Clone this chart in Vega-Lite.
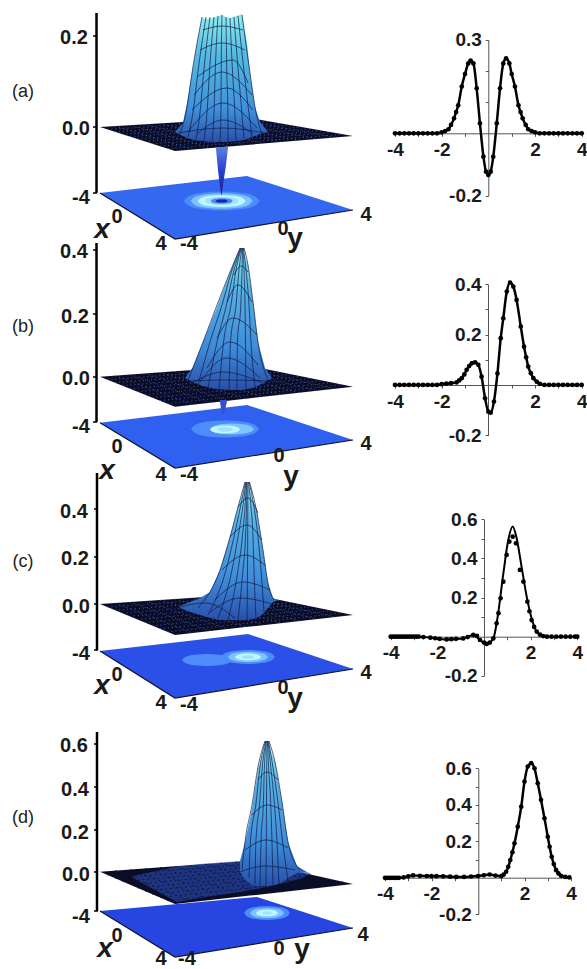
{"$schema":"https://vega.github.io/schema/vega-lite/v6.json","padding":0,"spacing":0,"columns":2,"bounds":"flush","background":"white","config":{"view":{"stroke":null},"font":"Liberation Sans","axis":{"grid":false,"title":null,"domainColor":"#555","tickColor":"#555","tickSize":3,"labelPadding":4,"labelFlush":false,"labelFont":"Liberation Sans","labelFontSize":19,"labelFontWeight":"bold","labelColor":"#1a1a1a"}},
"concat":[
{"width":350,"height":242,"encoding":{"x":{"field":"u","type":"quantitative","scale":{"domain":[0,350]},"axis":null},"y":{"field":"v","type":"quantitative","scale":{"domain":[242,0]},"axis":null}},"layer":[
{"data":{"values":[{"u":100,"v":193,"v2":193},{"u":175,"v":184.3,"v2":239},{"u":247,"v":176,"v2":227.3},{"u":353,"v":210,"v2":210}]},"mark":{"type":"area","color":"#3468f0"},"encoding":{"y2":{"field":"v2"}}},
{"data":{"values":[{"level":1,"u":183.7,"v":201,"v2":201},{"level":1,"u":188.6,"v":196.2,"v2":205.8},{"level":1,"u":202.7,"v":192.7,"v2":209.3},{"level":1,"u":221.7,"v":191.5,"v2":210.5},{"level":1,"u":240.7,"v":192.7,"v2":209.3},{"level":1,"u":254.8,"v":196.2,"v2":205.8},{"level":1,"u":259.7,"v":201,"v2":201},{"level":2,"u":190.7,"v":201,"v2":201},{"level":2,"u":194.7,"v":197.1,"v2":204.9},{"level":2,"u":206.2,"v":194.2,"v2":207.8},{"level":2,"u":221.7,"v":193.2,"v2":208.8},{"level":2,"u":237.2,"v":194.2,"v2":207.8},{"level":2,"u":248.7,"v":197.1,"v2":204.9},{"level":2,"u":252.7,"v":201,"v2":201},{"level":3,"u":197.7,"v":201,"v2":201},{"level":3,"u":200.8,"v":198,"v2":204},{"level":3,"u":209.7,"v":195.8,"v2":206.2},{"level":3,"u":221.7,"v":195,"v2":207},{"level":3,"u":233.7,"v":195.8,"v2":206.2},{"level":3,"u":242.6,"v":198,"v2":204},{"level":3,"u":245.7,"v":201,"v2":201},{"level":4,"u":204.7,"v":201,"v2":201},{"level":4,"u":206.9,"v":198.9,"v2":203.1},{"level":4,"u":213.2,"v":197.3,"v2":204.7},{"level":4,"u":221.7,"v":196.7,"v2":205.3},{"level":4,"u":230.2,"v":197.3,"v2":204.7},{"level":4,"u":236.5,"v":198.9,"v2":203.1},{"level":4,"u":238.7,"v":201,"v2":201},{"level":5,"u":210.7,"v":201,"v2":201},{"level":5,"u":212.1,"v":199.6,"v2":202.4},{"level":5,"u":216.2,"v":198.6,"v2":203.4},{"level":5,"u":221.7,"v":198.2,"v2":203.8},{"level":5,"u":227.2,"v":198.6,"v2":203.4},{"level":5,"u":231.3,"v":199.6,"v2":202.4},{"level":5,"u":232.7,"v":201,"v2":201},{"level":6,"u":215.7,"v":201,"v2":201},{"level":6,"u":216.5,"v":200.2,"v2":201.8},{"level":6,"u":218.7,"v":199.6,"v2":202.4},{"level":6,"u":221.7,"v":199.4,"v2":202.6},{"level":6,"u":224.7,"v":199.6,"v2":202.4},{"level":6,"u":226.9,"v":200.2,"v2":201.8},{"level":6,"u":227.7,"v":201,"v2":201}]},"mark":{"type":"area","interpolate":"monotone"},"encoding":{"y2":{"field":"v2"},"color":{"field":"level","type":"ordinal","legend":null,"scale":{"domain":[1,2,3,4,5,6],"range":["#4d8dfa","#7fc4ff","#c0f6ff","#9fe4ff","#4f86ee","#1a22b0"]}}}},
{"data":{"values":[{"u":100,"v":193},{"u":175,"v":239},{"u":353,"v":210}]},"mark":{"type":"line","color":"#10142a","strokeWidth":1.2},"encoding":{}},
{"data":{"values":[{"u":100,"v":127,"v2":127},{"u":175,"v":122.5,"v2":151},{"u":250,"v":118,"v2":144.7},{"u":353,"v":136,"v2":136}]},"mark":{"type":"area","color":"#0b0d26"},"encoding":{"y2":{"field":"v2"}}},
{"data":{"values":[{"u":107.5,"v":129.4,"u2":260.3,"v2":119.8},{"u":115,"v":131.8,"u2":270.6,"v2":121.6},{"u":122.5,"v":134.2,"u2":280.9,"v2":123.4},{"u":130,"v":136.6,"u2":291.2,"v2":125.2},{"u":137.5,"v":139,"u2":301.5,"v2":127},{"u":145,"v":141.4,"u2":311.8,"v2":128.8},{"u":152.5,"v":143.8,"u2":322.1,"v2":130.6},{"u":160,"v":146.2,"u2":332.4,"v2":132.4},{"u":167.5,"v":148.6,"u2":342.7,"v2":134.2},{"u":115,"v":126.1,"u2":192.8,"v2":149.5},{"u":130,"v":125.2,"u2":210.6,"v2":148},{"u":145,"v":124.3,"u2":228.4,"v2":146.5},{"u":160,"v":123.4,"u2":246.2,"v2":145},{"u":175,"v":122.5,"u2":264,"v2":143.5},{"u":190,"v":121.6,"u2":281.8,"v2":142},{"u":205,"v":120.7,"u2":299.6,"v2":140.5},{"u":220,"v":119.8,"u2":317.4,"v2":139},{"u":235,"v":118.9,"u2":335.2,"v2":137.5}]},"mark":{"type":"rule","color":"#4a70d8","strokeWidth":0.8,"strokeDash":[1,3]},"encoding":{"x2":{"field":"u2"},"y2":{"field":"v2"}}},
{"data":{"values":[{"u":216,"v":147,"v2":149},{"u":218,"v":147,"v2":170},{"u":220.5,"v":147,"v2":190},{"u":221.5,"v":147,"v2":196},{"u":223,"v":147,"v2":185},{"u":226,"v":147,"v2":165},{"u":228,"v":147,"v2":148}]},"mark":{"type":"area","color":{"x1":0,"y1":0,"x2":0,"y2":1,"gradient":"linear","stops":[{"offset":0,"color":"#5a80e0"},{"offset":0.5,"color":"#2a3cd0"},{"offset":1,"color":"#1a1a80"}]}},"encoding":{"y2":{"field":"v2"}}},
{"data":{"values":[{"u":175,"v":132,"v2":132},{"u":183,"v":123,"v2":136},{"u":187,"v":103,"v2":138},{"u":192,"v":73,"v2":139.5},{"u":197,"v":43,"v2":140.5},{"u":202,"v":18,"v2":141},{"u":207,"v":19,"v2":141.5},{"u":213,"v":18,"v2":142},{"u":218,"v":16,"v2":142},{"u":222,"v":15,"v2":142},{"u":226,"v":17,"v2":142},{"u":230,"v":18,"v2":141.5},{"u":236,"v":16,"v2":141},{"u":242,"v":14,"v2":140.5},{"u":247,"v":43,"v2":139},{"u":250,"v":73,"v2":138},{"u":255,"v":107,"v2":136},{"u":260,"v":122,"v2":134},{"u":268,"v":132,"v2":132}]},"mark":{"type":"area","color":{"x1":0,"y1":0,"x2":0,"y2":1,"gradient":"linear","stops":[{"offset":0,"color":"#8ff0ee"},{"offset":0.3,"color":"#58bce0"},{"offset":0.75,"color":"#3f8fd8"},{"offset":1,"color":"#2850a8"}]}},"encoding":{"y2":{"field":"v2"}}},
{"data":{"values":[{"g":"m0","u":180,"v":134},{"g":"m0","u":187,"v":107},{"g":"m0","u":192,"v":73},{"g":"m0","u":202,"v":17},{"g":"m1","u":188,"v":137},{"g":"m1","u":193.8,"v":107},{"g":"m1","u":197.8,"v":73},{"g":"m1","u":206,"v":17},{"g":"m2","u":196,"v":139.5},{"g":"m2","u":200.6,"v":107},{"g":"m2","u":203.6,"v":73},{"g":"m2","u":210,"v":17},{"g":"m3","u":204,"v":141},{"g":"m3","u":207.4,"v":107},{"g":"m3","u":209.4,"v":73},{"g":"m3","u":214,"v":17},{"g":"m4","u":212,"v":141.5},{"g":"m4","u":214.2,"v":107},{"g":"m4","u":215.2,"v":73},{"g":"m4","u":218,"v":16},{"g":"m5","u":220,"v":142},{"g":"m5","u":221,"v":107},{"g":"m5","u":221.2,"v":73},{"g":"m5","u":222,"v":15},{"g":"m6","u":228,"v":141.5},{"g":"m6","u":227.8,"v":107},{"g":"m6","u":226.8,"v":73},{"g":"m6","u":226,"v":17},{"g":"m7","u":236,"v":141},{"g":"m7","u":234.6,"v":107},{"g":"m7","u":232.6,"v":73},{"g":"m7","u":230,"v":18},{"g":"m8","u":244,"v":139.5},{"g":"m8","u":241.4,"v":107},{"g":"m8","u":238.4,"v":73},{"g":"m8","u":234,"v":17},{"g":"m9","u":252,"v":137},{"g":"m9","u":248.2,"v":107},{"g":"m9","u":244.2,"v":73},{"g":"m9","u":238,"v":16},{"g":"m10","u":262,"v":134},{"g":"m10","u":255,"v":107},{"g":"m10","u":250,"v":73},{"g":"m10","u":242,"v":15},{"g":"a0","u":178,"v":133},{"g":"a0","u":223,"v":128},{"g":"a0","u":265,"v":133},{"g":"a1","u":197,"v":134},{"g":"a1","u":223,"v":120},{"g":"a1","u":253,"v":134},{"g":"a2","u":188,"v":132},{"g":"a2","u":223,"v":103},{"g":"a2","u":257,"v":128},{"g":"a3","u":192,"v":110},{"g":"a3","u":227,"v":88},{"g":"a3","u":253,"v":110},{"g":"a4","u":197,"v":77},{"g":"a4","u":233,"v":60},{"g":"a4","u":248,"v":83},{"g":"a5","u":200,"v":50},{"g":"a5","u":222,"v":43},{"g":"a5","u":245,"v":50},{"g":"a6","u":203,"v":30},{"g":"a6","u":222,"v":26},{"g":"a6","u":243,"v":30},{"g":"a7","u":194,"v":95},{"g":"a7","u":222,"v":72},{"g":"a7","u":252,"v":95}]},"mark":{"type":"line","color":"#0c1a4a","strokeWidth":0.7,"interpolate":"monotone"},"encoding":{"detail":{"field":"g"}}},
{"data":{"values":[{"u":96.5,"v":13,"v2":193}]},"mark":{"type":"rule","color":"#000","strokeWidth":2.5},"encoding":{"y2":{"field":"v2"}}},
{"data":{"values":[{"u":93,"u2":97,"v":36},{"u":93,"u2":97,"v":127},{"u":93,"u2":97,"v":193}]},"mark":{"type":"rule","color":"#000","strokeWidth":1.5},"encoding":{"x2":{"field":"u2"}}},
{"data":{"values":[{"u":74,"v":38,"t":"0.2"},{"u":76,"v":129,"t":"0.0"},{"u":81,"v":198,"t":"-4"},{"u":117,"v":217,"t":"0"},{"u":161,"v":244,"t":"4"},{"u":189,"v":244,"t":"-4"},{"u":283,"v":229,"t":"0"},{"u":366,"v":215,"t":"4"}]},"mark":{"type":"text","fontSize":20,"fontWeight":"bold","color":"#1a1a1a","align":"center","baseline":"middle"},"encoding":{"text":{"field":"t"}}},
{"data":{"values":[{"u":102,"v":230,"t":"x"}]},"mark":{"type":"text","fontSize":28,"fontWeight":"bold","fontStyle":"italic","color":"#1a1a1a","align":"center","baseline":"middle"},"encoding":{"text":{"field":"t"}}},
{"data":{"values":[{"u":295,"v":239,"t":"y"}]},"mark":{"type":"text","fontSize":28,"fontWeight":"bold","color":"#1a1a1a","align":"center","baseline":"middle"},"encoding":{"text":{"field":"t"}}},
{"data":{"values":[{"u":23,"v":92,"t":"(a)"}]},"mark":{"type":"text","fontSize":18,"color":"#222","align":"center","baseline":"middle"},"encoding":{"text":{"field":"t"}}}
]},
{"width":237,"height":242,"data":{"values":[{"x":-4,"y":0},{"x":-3.8,"y":0},{"x":-3.6,"y":0},{"x":-3.4,"y":0},{"x":-3.2,"y":0},{"x":-3,"y":0},{"x":-2.8,"y":0},{"x":-2.6,"y":0},{"x":-2.4,"y":0},{"x":-2.2,"y":0},{"x":-2,"y":0.003},{"x":-1.85,"y":0.007},{"x":-1.71,"y":0.013},{"x":-1.6,"y":0.027},{"x":-1.47,"y":0.048},{"x":-1.38,"y":0.068},{"x":-1.29,"y":0.09},{"x":-1.14,"y":0.15},{"x":-1,"y":0.19},{"x":-0.86,"y":0.224},{"x":-0.76,"y":0.233},{"x":-0.64,"y":0.224},{"x":-0.5,"y":0.144},{"x":-0.36,"y":0.032},{"x":-0.21,"y":-0.075},{"x":-0.1,"y":-0.123},{"x":0,"y":-0.134},{"x":0.1,"y":-0.123},{"x":0.21,"y":-0.075},{"x":0.36,"y":0.032},{"x":0.5,"y":0.144},{"x":0.64,"y":0.224},{"x":0.76,"y":0.24},{"x":0.9,"y":0.224},{"x":1,"y":0.19},{"x":1.14,"y":0.15},{"x":1.29,"y":0.09},{"x":1.38,"y":0.068},{"x":1.47,"y":0.048},{"x":1.6,"y":0.027},{"x":1.71,"y":0.013},{"x":1.85,"y":0.007},{"x":2,"y":0.003},{"x":2.2,"y":0},{"x":2.4,"y":0},{"x":2.6,"y":0},{"x":2.8,"y":0},{"x":3,"y":0},{"x":3.2,"y":0},{"x":3.4,"y":0},{"x":3.6,"y":0},{"x":3.8,"y":0},{"x":4,"y":0}]},
"encoding":{"x":{"field":"x","type":"quantitative","scale":{"domain":[-4,4],"range":[45,231.7]},"axis":{"offset":-108.7,"values":[-4,-3,-2,-1,1,2,3,4],"labelExpr":"datum.value%2==0?(datum.value<0?'-'+(-datum.value):''+datum.value):''"}},"y":{"field":"y","type":"quantitative","scale":{"domain":[-0.2,0.3],"range":[195.7,39.7]},"axis":{"offset":-138.3,"values":[0.3,0.2,0.1,-0.2],"labelExpr":"datum.value==0.3?'0.3':(datum.value==-0.2?'-0.2':'')"}}},
"layer":[{"mark":{"type":"line","color":"#000","strokeWidth":2.5,"interpolate":"monotone"}},{"mark":{"type":"point","filled":true,"color":"#000","opacity":1,"size":22}}]},

{"width":350,"height":242,"encoding":{"x":{"field":"u","type":"quantitative","scale":{"domain":[0,350]},"axis":null},"y":{"field":"v","type":"quantitative","scale":{"domain":[484,242]},"axis":null}},"layer":[
{"data":{"values":[{"u":100,"v":422.7,"v2":422.7},{"u":175,"v":413.7,"v2":468},{"u":247,"v":405,"v2":456.7},{"u":353,"v":440,"v2":440}]},"mark":{"type":"area","color":"#2f60f0"},"encoding":{"y2":{"field":"v2"}}},
{"data":{"values":[{"level":1,"u":191,"v":429,"v2":429},{"level":1,"u":195.4,"v":424.8,"v2":433.2},{"level":1,"u":208,"v":421.6,"v2":436.4},{"level":1,"u":225,"v":420.5,"v2":437.5},{"level":1,"u":242,"v":421.6,"v2":436.4},{"level":1,"u":254.6,"v":424.8,"v2":433.2},{"level":1,"u":259,"v":429,"v2":429},{"level":2,"u":210,"v":429,"v2":429},{"level":2,"u":212.9,"v":426.2,"v2":431.8},{"level":2,"u":221,"v":424.2,"v2":433.8},{"level":2,"u":232,"v":423.5,"v2":434.5},{"level":2,"u":243,"v":424.2,"v2":433.8},{"level":2,"u":251.1,"v":426.2,"v2":431.8},{"level":2,"u":254,"v":429,"v2":429},{"level":3,"u":210,"v":429.5,"v2":429.5},{"level":3,"u":212,"v":427.5,"v2":431.5},{"level":3,"u":217.5,"v":426,"v2":433},{"level":3,"u":225,"v":425.5,"v2":433.5},{"level":3,"u":232.5,"v":426,"v2":433},{"level":3,"u":238,"v":427.5,"v2":431.5},{"level":3,"u":240,"v":429.5,"v2":429.5},{"level":4,"u":217,"v":429.5,"v2":429.5},{"level":4,"u":218,"v":428.4,"v2":430.6},{"level":4,"u":221,"v":427.6,"v2":431.4},{"level":4,"u":225,"v":427.3,"v2":431.7},{"level":4,"u":229,"v":427.6,"v2":431.4},{"level":4,"u":232,"v":428.4,"v2":430.6},{"level":4,"u":233,"v":429.5,"v2":429.5}]},"mark":{"type":"area","interpolate":"monotone"},"encoding":{"y2":{"field":"v2"},"color":{"field":"level","type":"ordinal","legend":null,"scale":{"domain":[1,2,3,4],"range":["#4a8af8","#88d0ff","#3e78ec","#1a28c0"]}}}},
{"data":{"values":[{"u":100,"v":422.7},{"u":175,"v":468},{"u":353,"v":440}]},"mark":{"type":"line","color":"#10142a","strokeWidth":1.2},"encoding":{}},
{"data":{"values":[{"u":100,"v":376.7,"v2":376.7},{"u":175,"v":371.3,"v2":406.7},{"u":250,"v":366,"v2":398.3},{"u":353,"v":386.7,"v2":386.7}]},"mark":{"type":"area","color":"#0b0d26"},"encoding":{"y2":{"field":"v2"}}},
{"data":{"values":[{"u":107.5,"v":379.7,"u2":260.3,"v2":368.1},{"u":115,"v":382.7,"u2":270.6,"v2":370.1},{"u":122.5,"v":385.7,"u2":280.9,"v2":372.2},{"u":130,"v":388.7,"u2":291.2,"v2":374.3},{"u":137.5,"v":391.7,"u2":301.5,"v2":376.4},{"u":145,"v":394.7,"u2":311.8,"v2":378.4},{"u":152.5,"v":397.7,"u2":322.1,"v2":380.5},{"u":160,"v":400.7,"u2":332.4,"v2":382.6},{"u":167.5,"v":403.7,"u2":342.7,"v2":384.6},{"u":115,"v":375.6,"u2":192.8,"v2":404.7},{"u":130,"v":374.6,"u2":210.6,"v2":402.7},{"u":145,"v":373.5,"u2":228.4,"v2":400.7},{"u":160,"v":372.4,"u2":246.2,"v2":398.7},{"u":175,"v":371.4,"u2":264,"v2":396.7},{"u":190,"v":370.3,"u2":281.8,"v2":394.7},{"u":205,"v":369.2,"u2":299.6,"v2":392.7},{"u":220,"v":368.1,"u2":317.4,"v2":390.7},{"u":235,"v":367.1,"u2":335.2,"v2":388.7}]},"mark":{"type":"rule","color":"#4a70d8","strokeWidth":0.8,"strokeDash":[1,3]},"encoding":{"x2":{"field":"u2"},"y2":{"field":"v2"}}},
{"data":{"values":[{"u":220,"v":400,"v2":402},{"u":221.5,"v":400,"v2":412},{"u":223,"v":400,"v2":415},{"u":225,"v":400,"v2":411},{"u":227,"v":400,"v2":401}]},"mark":{"type":"area","color":"#3a50c8"},"encoding":{"y2":{"field":"v2"}}},
{"data":{"values":[{"u":185,"v":378,"v2":378},{"u":193,"v":367,"v2":382},{"u":203,"v":342,"v2":386},{"u":216.7,"v":308,"v2":389},{"u":230,"v":272,"v2":390},{"u":241.7,"v":247,"v2":390},{"u":248,"v":265,"v2":389},{"u":253,"v":302,"v2":388},{"u":258,"v":342,"v2":386},{"u":265,"v":368,"v2":382},{"u":272,"v":378,"v2":378}]},"mark":{"type":"area","color":{"x1":0,"y1":0,"x2":0,"y2":1,"gradient":"linear","stops":[{"offset":0,"color":"#8ff0ee"},{"offset":0.3,"color":"#58b0e0"},{"offset":0.7,"color":"#3f8cd8"},{"offset":1,"color":"#2850a8"}]}},"encoding":{"y2":{"field":"v2"}}},
{"data":{"values":[{"g":"m0","u":188,"v":380},{"g":"m0","u":203,"v":342},{"g":"m0","u":217,"v":305},{"g":"m0","u":230,"v":272},{"g":"m0","u":240,"v":248},{"g":"m1","u":198,"v":385},{"g":"m1","u":210,"v":342},{"g":"m1","u":222,"v":305},{"g":"m1","u":232,"v":270},{"g":"m1","u":240.5,"v":248},{"g":"m2","u":208,"v":388},{"g":"m2","u":217,"v":342},{"g":"m2","u":226.5,"v":305},{"g":"m2","u":234,"v":270},{"g":"m2","u":241,"v":248},{"g":"m3","u":219,"v":390},{"g":"m3","u":223.6,"v":342},{"g":"m3","u":231,"v":305},{"g":"m3","u":236,"v":270},{"g":"m3","u":241.5,"v":248},{"g":"m4","u":229,"v":390},{"g":"m4","u":230.5,"v":342},{"g":"m4","u":236,"v":305},{"g":"m4","u":239,"v":270},{"g":"m4","u":242,"v":248},{"g":"m5","u":237,"v":390},{"g":"m5","u":237.4,"v":342},{"g":"m5","u":240.8,"v":305},{"g":"m5","u":242,"v":270},{"g":"m5","u":242.5,"v":248},{"g":"m6","u":246,"v":389},{"g":"m6","u":245.5,"v":342},{"g":"m6","u":245,"v":305},{"g":"m6","u":244,"v":270},{"g":"m6","u":243,"v":248},{"g":"m7","u":255,"v":387},{"g":"m7","u":251,"v":342},{"g":"m7","u":249,"v":305},{"g":"m7","u":246,"v":270},{"g":"m7","u":243.5,"v":248},{"g":"m8","u":268,"v":380},{"g":"m8","u":258,"v":342},{"g":"m8","u":253,"v":302},{"g":"m8","u":248,"v":265},{"g":"m8","u":244,"v":248},{"g":"a0","u":186,"v":381},{"g":"a0","u":225,"v":380},{"g":"a0","u":270,"v":381},{"g":"a1","u":192,"v":383},{"g":"a1","u":223,"v":372},{"g":"a1","u":263,"v":383},{"g":"a2","u":200,"v":382},{"g":"a2","u":227,"v":358},{"g":"a2","u":260,"v":378},{"g":"a3","u":207,"v":368},{"g":"a3","u":230,"v":342},{"g":"a3","u":258,"v":365},{"g":"a4","u":217,"v":338},{"g":"a4","u":233,"v":318},{"g":"a4","u":257,"v":335},{"g":"a5","u":227,"v":302},{"g":"a5","u":238,"v":285},{"g":"a5","u":252,"v":302},{"g":"a6","u":234,"v":275},{"g":"a6","u":241,"v":266},{"g":"a6","u":248,"v":272}]},"mark":{"type":"line","color":"#0c1a4a","strokeWidth":0.7,"interpolate":"monotone"},"encoding":{"detail":{"field":"g"}}},
{"data":{"values":[{"u":96.5,"v":243,"v2":422}]},"mark":{"type":"rule","color":"#000","strokeWidth":2.5},"encoding":{"y2":{"field":"v2"}}},
{"data":{"values":[{"u":93,"u2":97,"v":250},{"u":93,"u2":97,"v":314},{"u":93,"u2":97,"v":377},{"u":93,"u2":97,"v":422}]},"mark":{"type":"rule","color":"#000","strokeWidth":1.5},"encoding":{"x2":{"field":"u2"}}},
{"data":{"values":[{"u":74,"v":252,"t":"0.4"},{"u":75,"v":317,"t":"0.2"},{"u":76,"v":379,"t":"0.0"},{"u":81,"v":427,"t":"-4"},{"u":117,"v":447,"t":"0"},{"u":161,"v":475,"t":"4"},{"u":189,"v":475,"t":"-4"},{"u":279,"v":456,"t":"0"},{"u":366,"v":444,"t":"4"}]},"mark":{"type":"text","fontSize":20,"fontWeight":"bold","color":"#1a1a1a","align":"center","baseline":"middle"},"encoding":{"text":{"field":"t"}}},
{"data":{"values":[{"u":107,"v":471,"t":"x"}]},"mark":{"type":"text","fontSize":28,"fontWeight":"bold","fontStyle":"italic","color":"#1a1a1a","align":"center","baseline":"middle"},"encoding":{"text":{"field":"t"}}},
{"data":{"values":[{"u":291,"v":477,"t":"y"}]},"mark":{"type":"text","fontSize":28,"fontWeight":"bold","color":"#1a1a1a","align":"center","baseline":"middle"},"encoding":{"text":{"field":"t"}}},
{"data":{"values":[{"u":23,"v":327,"t":"(b)"}]},"mark":{"type":"text","fontSize":18,"color":"#222","align":"center","baseline":"middle"},"encoding":{"text":{"field":"t"}}}
]},
{"width":237,"height":242,"data":{"values":[{"x":-4,"y":0},{"x":-3.8,"y":0},{"x":-3.6,"y":0},{"x":-3.4,"y":0},{"x":-3.2,"y":0},{"x":-3,"y":0},{"x":-2.8,"y":0},{"x":-2.6,"y":0},{"x":-2.4,"y":0},{"x":-2.2,"y":0},{"x":-2,"y":0.003},{"x":-1.8,"y":0.005},{"x":-1.6,"y":0.007},{"x":-1.36,"y":0.01},{"x":-1.25,"y":0.018},{"x":-1.14,"y":0.027},{"x":-1.03,"y":0.042},{"x":-0.93,"y":0.06},{"x":-0.82,"y":0.075},{"x":-0.71,"y":0.086},{"x":-0.57,"y":0.09},{"x":-0.43,"y":0.08},{"x":-0.29,"y":0.033},{"x":-0.14,"y":-0.053},{"x":0,"y":-0.106},{"x":0.1,"y":-0.11},{"x":0.24,"y":-0.066},{"x":0.39,"y":0.046},{"x":0.53,"y":0.186},{"x":0.64,"y":0.265},{"x":0.79,"y":0.371},{"x":0.93,"y":0.407},{"x":1.07,"y":0.391},{"x":1.21,"y":0.338},{"x":1.39,"y":0.232},{"x":1.53,"y":0.152},{"x":1.62,"y":0.11},{"x":1.71,"y":0.073},{"x":1.82,"y":0.047},{"x":1.93,"y":0.027},{"x":2.07,"y":0.013},{"x":2.21,"y":0.004},{"x":2.4,"y":0},{"x":2.6,"y":0},{"x":2.8,"y":0},{"x":3,"y":0},{"x":3.2,"y":0},{"x":3.4,"y":0},{"x":3.6,"y":0},{"x":3.8,"y":0},{"x":4,"y":0}]},
"encoding":{"x":{"field":"x","type":"quantitative","scale":{"domain":[-4,4],"range":[45,231.7]},"axis":{"offset":-99,"values":[-4,-3,-2,-1,1,2,3,4],"labelExpr":"datum.value%2==0?(datum.value<0?'-'+(-datum.value):''+datum.value):''"}},"y":{"field":"y","type":"quantitative","scale":{"domain":[-0.2,0.4],"range":[193.3,42.3]},"axis":{"offset":-138,"values":[0.4,0.3,0.2,0.1,-0.2],"labelExpr":"datum.value==0.4?'0.4':(datum.value==0.2?'0.2':(datum.value==-0.2?'-0.2':''))"}}},
"layer":[{"mark":{"type":"line","color":"#000","strokeWidth":2.5,"interpolate":"monotone"}},{"mark":{"type":"point","filled":true,"color":"#000","opacity":1,"size":22}}]},

{"width":350,"height":242,"encoding":{"x":{"field":"u","type":"quantitative","scale":{"domain":[0,350]},"axis":null},"y":{"field":"v","type":"quantitative","scale":{"domain":[726,484]},"axis":null}},"layer":[
{"data":{"values":[{"u":100,"v":651,"v2":651},{"u":175,"v":642.4,"v2":698},{"u":248,"v":634,"v2":686.1},{"u":353,"v":669,"v2":669}]},"mark":{"type":"area","color":"#2a50e8"},"encoding":{"y2":{"field":"v2"}}},
{"data":{"values":[{"level":0,"u":182,"v":660,"v2":660},{"level":0,"u":185.3,"v":657,"v2":663},{"level":0,"u":194.5,"v":654.8,"v2":665.2},{"level":0,"u":207,"v":654,"v2":666},{"level":0,"u":219.5,"v":654.8,"v2":665.2},{"level":0,"u":228.8,"v":657,"v2":663},{"level":0,"u":232,"v":660,"v2":660},{"level":1,"u":221,"v":657,"v2":657},{"level":1,"u":224.5,"v":653.5,"v2":660.5},{"level":1,"u":234.5,"v":650.9,"v2":663.1},{"level":1,"u":248,"v":650,"v2":664},{"level":1,"u":261.5,"v":650.9,"v2":663.1},{"level":1,"u":271.5,"v":653.5,"v2":660.5},{"level":1,"u":275,"v":657,"v2":657},{"level":2,"u":228,"v":657,"v2":657},{"level":2,"u":230.6,"v":654.4,"v2":659.6},{"level":2,"u":238,"v":652.5,"v2":661.5},{"level":2,"u":248,"v":651.8,"v2":662.2},{"level":2,"u":258,"v":652.5,"v2":661.5},{"level":2,"u":265.4,"v":654.4,"v2":659.6},{"level":2,"u":268,"v":657,"v2":657},{"level":3,"u":235,"v":657,"v2":657},{"level":3,"u":236.7,"v":655.3,"v2":658.8},{"level":3,"u":241.5,"v":654,"v2":660},{"level":3,"u":248,"v":653.5,"v2":660.5},{"level":3,"u":254.5,"v":654,"v2":660},{"level":3,"u":259.3,"v":655.3,"v2":658.8},{"level":3,"u":261,"v":657,"v2":657},{"level":4,"u":242,"v":657,"v2":657},{"level":4,"u":242.8,"v":656.1,"v2":657.9},{"level":4,"u":245,"v":655.4,"v2":658.6},{"level":4,"u":248,"v":655.2,"v2":658.8},{"level":4,"u":251,"v":655.4,"v2":658.6},{"level":4,"u":253.2,"v":656.1,"v2":657.9},{"level":4,"u":254,"v":657,"v2":657}]},"mark":{"type":"area","interpolate":"monotone"},"encoding":{"y2":{"field":"v2"},"color":{"field":"level","type":"ordinal","legend":null,"scale":{"domain":[0,1,2,3,4],"range":["#2244d8","#3f7ff5","#63aaff","#a0e8ff","#c8ffff"]}}}},
{"data":{"values":[{"u":100,"v":651},{"u":175,"v":698},{"u":353,"v":669}]},"mark":{"type":"line","color":"#10142a","strokeWidth":1.2},"encoding":{}},
{"data":{"values":[{"u":100,"v":604,"v2":604},{"u":175,"v":599,"v2":635},{"u":250,"v":594,"v2":626.6},{"u":353,"v":615,"v2":615}]},"mark":{"type":"area","color":"#0b0d26"},"encoding":{"y2":{"field":"v2"}}},
{"data":{"values":[{"u":107.5,"v":607.1,"u2":260.3,"v2":596.1},{"u":115,"v":610.2,"u2":270.6,"v2":598.2},{"u":122.5,"v":613.3,"u2":280.9,"v2":600.3},{"u":130,"v":616.4,"u2":291.2,"v2":602.4},{"u":137.5,"v":619.5,"u2":301.5,"v2":604.5},{"u":145,"v":622.6,"u2":311.8,"v2":606.6},{"u":152.5,"v":625.7,"u2":322.1,"v2":608.7},{"u":160,"v":628.8,"u2":332.4,"v2":610.8},{"u":167.5,"v":631.9,"u2":342.7,"v2":612.9},{"u":115,"v":603,"u2":192.8,"v2":633},{"u":130,"v":602,"u2":210.6,"v2":631},{"u":145,"v":601,"u2":228.4,"v2":629},{"u":160,"v":600,"u2":246.2,"v2":627},{"u":175,"v":599,"u2":264,"v2":625},{"u":190,"v":598,"u2":281.8,"v2":623},{"u":205,"v":597,"u2":299.6,"v2":621},{"u":220,"v":596,"u2":317.4,"v2":619},{"u":235,"v":595,"u2":335.2,"v2":617}]},"mark":{"type":"rule","color":"#4a70d8","strokeWidth":0.8,"strokeDash":[1,3]},"encoding":{"x2":{"field":"u2"},"y2":{"field":"v2"}}},
{"data":{"values":[{"u":180,"v":606,"v2":608},{"u":190,"v":602,"v2":612},{"u":200,"v":598,"v2":615},{"u":210,"v":592,"v2":618},{"u":220,"v":570,"v2":620},{"u":230,"v":537,"v2":620},{"u":238,"v":507,"v2":620},{"u":247,"v":481,"v2":620},{"u":257,"v":513,"v2":618},{"u":263,"v":550,"v2":614},{"u":268,"v":583,"v2":608},{"u":273,"v":598,"v2":602},{"u":278,"v":600,"v2":600}]},"mark":{"type":"area","color":{"x1":0,"y1":0,"x2":0,"y2":1,"gradient":"linear","stops":[{"offset":0,"color":"#8ff0ee"},{"offset":0.3,"color":"#58b0e0"},{"offset":0.7,"color":"#3f8cd8"},{"offset":1,"color":"#2850a8"}]}},"encoding":{"y2":{"field":"v2"}}},
{"data":{"values":[{"g":"m0","u":198,"v":608},{"g":"m0","u":220,"v":570},{"g":"m0","u":230,"v":537},{"g":"m0","u":238,"v":507},{"g":"m0","u":245,"v":482},{"g":"m1","u":208,"v":615},{"g":"m1","u":226,"v":570},{"g":"m1","u":234,"v":537},{"g":"m1","u":240.4,"v":507},{"g":"m1","u":245.5,"v":482},{"g":"m2","u":218,"v":618},{"g":"m2","u":232,"v":570},{"g":"m2","u":238,"v":537},{"g":"m2","u":242.8,"v":507},{"g":"m2","u":246,"v":482},{"g":"m3","u":228,"v":620},{"g":"m3","u":238,"v":570},{"g":"m3","u":242.4,"v":537},{"g":"m3","u":245,"v":507},{"g":"m3","u":246.5,"v":482},{"g":"m4","u":238,"v":620},{"g":"m4","u":243,"v":570},{"g":"m4","u":245.5,"v":537},{"g":"m4","u":246.5,"v":507},{"g":"m4","u":247,"v":482},{"g":"m5","u":247,"v":620},{"g":"m5","u":247.5,"v":570},{"g":"m5","u":247.7,"v":537},{"g":"m5","u":247.8,"v":507},{"g":"m5","u":248,"v":482},{"g":"m6","u":256,"v":618},{"g":"m6","u":254,"v":570},{"g":"m6","u":253,"v":537},{"g":"m6","u":251,"v":507},{"g":"m6","u":248.5,"v":482},{"g":"m7","u":264,"v":612},{"g":"m7","u":261,"v":570},{"g":"m7","u":258,"v":537},{"g":"m7","u":254,"v":507},{"g":"m7","u":249,"v":482},{"g":"m8","u":274,"v":600},{"g":"m8","u":268,"v":583},{"g":"m8","u":263,"v":550},{"g":"m8","u":257,"v":513},{"g":"m8","u":249.5,"v":482},{"g":"a0","u":170,"v":610},{"g":"a0","u":205,"v":603},{"g":"a0","u":235,"v":618},{"g":"a1","u":210,"v":612},{"g":"a1","u":240,"v":598},{"g":"a1","u":272,"v":604},{"g":"a2","u":215,"v":600},{"g":"a2","u":243,"v":582},{"g":"a2","u":270,"v":590},{"g":"a3","u":222,"v":570},{"g":"a3","u":245,"v":555},{"g":"a3","u":265,"v":565},{"g":"a4","u":230,"v":537},{"g":"a4","u":247,"v":525},{"g":"a4","u":262,"v":540},{"g":"a5","u":238,"v":507},{"g":"a5","u":248,"v":498},{"g":"a5","u":258,"v":513}]},"mark":{"type":"line","color":"#0c1a4a","strokeWidth":0.7,"interpolate":"monotone"},"encoding":{"detail":{"field":"g"}}},
{"data":{"values":[{"u":97,"v":473,"v2":650}]},"mark":{"type":"rule","color":"#000","strokeWidth":2.5},"encoding":{"y2":{"field":"v2"}}},
{"data":{"values":[{"u":94,"u2":98,"v":509},{"u":94,"u2":98,"v":557},{"u":94,"u2":98,"v":604},{"u":94,"u2":98,"v":650}]},"mark":{"type":"rule","color":"#000","strokeWidth":1.5},"encoding":{"x2":{"field":"u2"}}},
{"data":{"values":[{"u":74,"v":512,"t":"0.4"},{"u":75,"v":559,"t":"0.2"},{"u":76,"v":607,"t":"0.0"},{"u":81,"v":654,"t":"-4"},{"u":117,"v":675,"t":"0"},{"u":161,"v":703,"t":"4"},{"u":189,"v":705,"t":"-4"},{"u":283,"v":688,"t":"0"},{"u":366,"v":673,"t":"4"}]},"mark":{"type":"text","fontSize":20,"fontWeight":"bold","color":"#1a1a1a","align":"center","baseline":"middle"},"encoding":{"text":{"field":"t"}}},
{"data":{"values":[{"u":102,"v":686,"t":"x"}]},"mark":{"type":"text","fontSize":28,"fontWeight":"bold","fontStyle":"italic","color":"#1a1a1a","align":"center","baseline":"middle"},"encoding":{"text":{"field":"t"}}},
{"data":{"values":[{"u":295,"v":699,"t":"y"}]},"mark":{"type":"text","fontSize":28,"fontWeight":"bold","color":"#1a1a1a","align":"center","baseline":"middle"},"encoding":{"text":{"field":"t"}}},
{"data":{"values":[{"u":23,"v":562,"t":"(c)"}]},"mark":{"type":"text","fontSize":18,"color":"#222","align":"center","baseline":"middle"},"encoding":{"text":{"field":"t"}}}
]},
{"width":237,"height":242,
"encoding":{"x":{"field":"x","type":"quantitative","scale":{"domain":[-4,4],"range":[40.7,227.3]},"axis":{"offset":-89.3,"values":[-4,-3,-2,-1,1,2,3,4],"labelExpr":"datum.value%2==0?(datum.value<0?'-'+(-datum.value):''+datum.value):''"}},"y":{"field":"y","type":"quantitative","scale":{"domain":[-0.2,0.6],"range":[191.8,35.3]},"axis":{"offset":-134,"values":[0.6,0.5,0.4,0.3,0.2,0.1,-0.2],"labelExpr":"datum.value==0.6?'0.6':(datum.value==0.4?'0.4':(datum.value==0.2?'0.2':(datum.value==-0.2?'-0.2':'')))"}}},
"layer":[{"data":{"values":[{"x":-4,"y":0},{"x":-3.5,"y":0},{"x":-3,"y":0},{"x":-2.8,"y":0},{"x":-2.3,"y":-0.005},{"x":-1.6,"y":-0.014},{"x":-0.89,"y":-0.009},{"x":-0.46,"y":0.009},{"x":-0.17,"y":-0.017},{"x":0.11,"y":-0.037},{"x":0.4,"y":-0.009},{"x":0.57,"y":0.09},{"x":0.83,"y":0.324},{"x":1.04,"y":0.494},{"x":1.23,"y":0.563},{"x":1.4,"y":0.503},{"x":1.61,"y":0.358},{"x":1.83,"y":0.205},{"x":2.04,"y":0.094},{"x":2.26,"y":0.026},{"x":2.54,"y":0.003},{"x":3,"y":0},{"x":3.5,"y":0},{"x":4,"y":0}]},"mark":{"type":"line","color":"#000","strokeWidth":2,"interpolate":"monotone"}},
{"data":{"values":[{"x":-4,"y":0},{"x":-3.9,"y":0},{"x":-3.8,"y":0},{"x":-3.7,"y":0},{"x":-3.6,"y":0},{"x":-3.5,"y":0},{"x":-3.4,"y":0},{"x":-3.3,"y":0},{"x":-3.2,"y":0},{"x":-3.1,"y":0},{"x":-3,"y":0},{"x":-2.9,"y":0},{"x":-2.8,"y":0},{"x":-2.6,"y":-0.002},{"x":-2.3,"y":-0.005},{"x":-2.1,"y":-0.008},{"x":-1.9,"y":-0.011},{"x":-1.6,"y":-0.014},{"x":-1.4,"y":-0.013},{"x":-1.2,"y":-0.011},{"x":-0.89,"y":-0.009},{"x":-0.7,"y":-0.002},{"x":-0.46,"y":0.009},{"x":-0.3,"y":0.004},{"x":-0.17,"y":-0.017},{"x":0,"y":-0.03},{"x":0.11,"y":-0.037},{"x":0.25,"y":-0.03},{"x":0.4,"y":-0.009},{"x":0.54,"y":0.068},{"x":0.62,"y":0.12},{"x":0.71,"y":0.196},{"x":0.83,"y":0.281},{"x":0.97,"y":0.418},{"x":1.09,"y":0.486},{"x":1.23,"y":0.511},{"x":1.37,"y":0.477},{"x":1.54,"y":0.341},{"x":1.69,"y":0.281},{"x":1.86,"y":0.179},{"x":1.95,"y":0.13},{"x":2.04,"y":0.085},{"x":2.15,"y":0.05},{"x":2.26,"y":0.026},{"x":2.4,"y":0.01},{"x":2.54,"y":0.003},{"x":2.7,"y":0},{"x":2.9,"y":0},{"x":3.1,"y":0},{"x":3.3,"y":0},{"x":3.5,"y":0},{"x":3.7,"y":0},{"x":3.9,"y":0},{"x":4,"y":0}]},"mark":{"type":"point","filled":true,"color":"#000","opacity":1,"size":22}}]},

{"width":350,"height":242,"encoding":{"x":{"field":"u","type":"quantitative","scale":{"domain":[0,350]},"axis":null},"y":{"field":"v","type":"quantitative","scale":{"domain":[968,726]},"axis":null}},"layer":[
{"data":{"values":[{"u":100,"v":911,"v2":911},{"u":175,"v":904.3,"v2":957},{"u":257,"v":897,"v2":943.6},{"u":353,"v":928,"v2":928}]},"mark":{"type":"area","color":"#2745e0"},"encoding":{"y2":{"field":"v2"}}},
{"data":{"values":[{"level":1,"u":244,"v":913,"v2":913},{"level":1,"u":247,"v":909.5,"v2":916.5},{"level":1,"u":255.5,"v":906.9,"v2":919.1},{"level":1,"u":267,"v":906,"v2":920},{"level":1,"u":278.5,"v":906.9,"v2":919.1},{"level":1,"u":287,"v":909.5,"v2":916.5},{"level":1,"u":290,"v":913,"v2":913},{"level":2,"u":250,"v":913,"v2":913},{"level":2,"u":252.2,"v":910.5,"v2":915.5},{"level":2,"u":258.5,"v":908.6,"v2":917.4},{"level":2,"u":267,"v":908,"v2":918},{"level":2,"u":275.5,"v":908.6,"v2":917.4},{"level":2,"u":281.8,"v":910.5,"v2":915.5},{"level":2,"u":284,"v":913,"v2":913},{"level":3,"u":256,"v":913,"v2":913},{"level":3,"u":257.4,"v":911.4,"v2":914.7},{"level":3,"u":261.5,"v":910.1,"v2":915.9},{"level":3,"u":267,"v":909.7,"v2":916.3},{"level":3,"u":272.5,"v":910.1,"v2":915.9},{"level":3,"u":276.6,"v":911.4,"v2":914.7},{"level":3,"u":278,"v":913,"v2":913},{"level":4,"u":262,"v":913,"v2":913},{"level":4,"u":262.7,"v":912.2,"v2":913.8},{"level":4,"u":264.5,"v":911.6,"v2":914.4},{"level":4,"u":267,"v":911.4,"v2":914.6},{"level":4,"u":269.5,"v":911.6,"v2":914.4},{"level":4,"u":271.4,"v":912.2,"v2":913.8},{"level":4,"u":272,"v":913,"v2":913}]},"mark":{"type":"area","interpolate":"monotone"},"encoding":{"y2":{"field":"v2"},"color":{"field":"level","type":"ordinal","legend":null,"scale":{"domain":[1,2,3,4],"range":["#3f70f5","#6aa8ff","#a0e0ff","#d0ffff"]}}}},
{"data":{"values":[{"u":100,"v":911},{"u":175,"v":957},{"u":353,"v":928}]},"mark":{"type":"line","color":"#10142a","strokeWidth":1.2},"encoding":{}},
{"data":{"values":[{"u":100,"v":871.7,"v2":871.7},{"u":175,"v":866.3,"v2":904},{"u":250,"v":861,"v2":895.6},{"u":353,"v":884,"v2":884}]},"mark":{"type":"area","color":"#0b0d26"},"encoding":{"y2":{"field":"v2"}}},
{"data":{"values":[{"u":133,"v":876,"v2":878},{"u":177,"v":866.5,"v2":902},{"u":200,"v":864,"v2":898},{"u":240,"v":861,"v2":892},{"u":267,"v":862,"v2":887},{"u":300,"v":870,"v2":879},{"u":310,"v":873,"v2":874}]},"mark":{"type":"area","color":"#2a4ab0","opacity":0.65},"encoding":{"y2":{"field":"v2"}}},
{"data":{"values":[{"u":107.5,"v":874.9,"u2":260.3,"v2":863.3},{"u":115,"v":878.2,"u2":270.6,"v2":865.6},{"u":122.5,"v":881.4,"u2":280.9,"v2":867.9},{"u":130,"v":884.6,"u2":291.2,"v2":870.2},{"u":137.5,"v":887.9,"u2":301.5,"v2":872.5},{"u":145,"v":891.1,"u2":311.8,"v2":874.8},{"u":152.5,"v":894.3,"u2":322.1,"v2":877.1},{"u":160,"v":897.5,"u2":332.4,"v2":879.4},{"u":167.5,"v":900.8,"u2":342.7,"v2":881.7},{"u":115,"v":870.6,"u2":192.8,"v2":902},{"u":130,"v":869.6,"u2":210.6,"v2":900},{"u":145,"v":868.5,"u2":228.4,"v2":898},{"u":160,"v":867.4,"u2":246.2,"v2":896},{"u":175,"v":866.4,"u2":264,"v2":894},{"u":190,"v":865.3,"u2":281.8,"v2":892},{"u":205,"v":864.2,"u2":299.6,"v2":890},{"u":220,"v":863.1,"u2":317.4,"v2":888},{"u":235,"v":862.1,"u2":335.2,"v2":886}]},"mark":{"type":"rule","color":"#0a1030","strokeWidth":0.8,"strokeDash":[2,3]},"encoding":{"x2":{"field":"u2"},"y2":{"field":"v2"}}},
{"data":{"values":[{"u":240,"v":861,"v2":872},{"u":245,"v":842,"v2":880},{"u":252,"v":809,"v2":885},{"u":258,"v":769,"v2":886},{"u":267,"v":740,"v2":886},{"u":275,"v":762,"v2":885},{"u":282,"v":802,"v2":882},{"u":288,"v":842,"v2":878},{"u":297,"v":866,"v2":873},{"u":307,"v":872,"v2":872}]},"mark":{"type":"area","color":{"x1":0,"y1":0,"x2":0,"y2":1,"gradient":"linear","stops":[{"offset":0,"color":"#8ff0ee"},{"offset":0.3,"color":"#58b0e0"},{"offset":0.7,"color":"#3f8cd8"},{"offset":1,"color":"#2850a8"}]}},"encoding":{"y2":{"field":"v2"}}},
{"data":{"values":[{"g":"m0","u":242,"v":870},{"g":"m0","u":245,"v":842},{"g":"m0","u":252,"v":805},{"g":"m0","u":258,"v":767},{"g":"m0","u":265,"v":741},{"g":"m1","u":249,"v":878},{"g":"m1","u":250.4,"v":842},{"g":"m1","u":255.8,"v":805},{"g":"m1","u":260,"v":767},{"g":"m1","u":265.5,"v":741},{"g":"m2","u":255,"v":884},{"g":"m2","u":255.9,"v":842},{"g":"m2","u":259.5,"v":805},{"g":"m2","u":262.3,"v":767},{"g":"m2","u":266,"v":741},{"g":"m3","u":260,"v":886},{"g":"m3","u":261,"v":842},{"g":"m3","u":263.3,"v":805},{"g":"m3","u":264.4,"v":767},{"g":"m3","u":266.5,"v":741},{"g":"m4","u":266,"v":886},{"g":"m4","u":266.3,"v":842},{"g":"m4","u":266.5,"v":805},{"g":"m4","u":266.7,"v":767},{"g":"m4","u":267,"v":741},{"g":"m5","u":273,"v":886},{"g":"m5","u":272,"v":842},{"g":"m5","u":270.8,"v":805},{"g":"m5","u":268.6,"v":767},{"g":"m5","u":267.5,"v":741},{"g":"m6","u":279,"v":884},{"g":"m6","u":277,"v":842},{"g":"m6","u":274.5,"v":805},{"g":"m6","u":270.8,"v":767},{"g":"m6","u":268,"v":741},{"g":"m7","u":288,"v":880},{"g":"m7","u":282.6,"v":842},{"g":"m7","u":278.3,"v":805},{"g":"m7","u":272.9,"v":767},{"g":"m7","u":268.5,"v":741},{"g":"m8","u":300,"v":870},{"g":"m8","u":288,"v":842},{"g":"m8","u":282,"v":802},{"g":"m8","u":275,"v":762},{"g":"m8","u":269,"v":741},{"g":"a1","u":240,"v":872},{"g":"a1","u":265,"v":866},{"g":"a1","u":295,"v":870},{"g":"a2","u":245,"v":850},{"g":"a2","u":266,"v":840},{"g":"a2","u":288,"v":848},{"g":"a3","u":252,"v":815},{"g":"a3","u":267,"v":805},{"g":"a3","u":282,"v":810},{"g":"a4","u":258,"v":780},{"g":"a4","u":267,"v":772},{"g":"a4","u":278,"v":780}]},"mark":{"type":"line","color":"#0c1a4a","strokeWidth":0.7,"interpolate":"monotone"},"encoding":{"detail":{"field":"g"}}},
{"data":{"values":[{"u":97,"v":732,"v2":911}]},"mark":{"type":"rule","color":"#000","strokeWidth":2.5},"encoding":{"y2":{"field":"v2"}}},
{"data":{"values":[{"u":94,"u2":98,"v":744},{"u":94,"u2":98,"v":787},{"u":94,"u2":98,"v":830},{"u":94,"u2":98,"v":872},{"u":94,"u2":98,"v":911}]},"mark":{"type":"rule","color":"#000","strokeWidth":1.5},"encoding":{"x2":{"field":"u2"}}},
{"data":{"values":[{"u":74,"v":746,"t":"0.6"},{"u":75,"v":790,"t":"0.4"},{"u":75,"v":833,"t":"0.2"},{"u":76,"v":875,"t":"0.0"},{"u":81,"v":917,"t":"-4"},{"u":117,"v":936,"t":"0"},{"u":161,"v":959,"t":"4"},{"u":187,"v":959,"t":"-4"},{"u":279,"v":949,"t":"0"},{"u":363,"v":935,"t":"4"}]},"mark":{"type":"text","fontSize":20,"fontWeight":"bold","color":"#1a1a1a","align":"center","baseline":"middle"},"encoding":{"text":{"field":"t"}}},
{"data":{"values":[{"u":105,"v":949,"t":"x"}]},"mark":{"type":"text","fontSize":28,"fontWeight":"bold","fontStyle":"italic","color":"#1a1a1a","align":"center","baseline":"middle"},"encoding":{"text":{"field":"t"}}},
{"data":{"values":[{"u":302,"v":950,"t":"y"}]},"mark":{"type":"text","fontSize":28,"fontWeight":"bold","color":"#1a1a1a","align":"center","baseline":"middle"},"encoding":{"text":{"field":"t"}}},
{"data":{"values":[{"u":23,"v":818,"t":"(d)"}]},"mark":{"type":"text","fontSize":18,"color":"#222","align":"center","baseline":"middle"},"encoding":{"text":{"field":"t"}}}
]},
{"width":237,"height":242,"data":{"values":[{"x":-4,"y":0},{"x":-3.9,"y":0},{"x":-3.8,"y":0},{"x":-3.7,"y":0},{"x":-3.6,"y":0},{"x":-3.5,"y":0},{"x":-3.4,"y":0},{"x":-3.2,"y":0.002},{"x":-3,"y":0.008},{"x":-2.79,"y":0.013},{"x":-2.5,"y":0.011},{"x":-2.2,"y":0.01},{"x":-2,"y":0.009},{"x":-1.79,"y":0.009},{"x":-1.5,"y":0.008},{"x":-1.2,"y":0.006},{"x":-0.93,"y":0.005},{"x":-0.6,"y":0.005},{"x":-0.3,"y":0.007},{"x":0,"y":0.01},{"x":0.25,"y":0.014},{"x":0.5,"y":0.018},{"x":0.75,"y":0.012},{"x":1,"y":0.009},{"x":1.1,"y":0.017},{"x":1.21,"y":0.033},{"x":1.3,"y":0.06},{"x":1.39,"y":0.097},{"x":1.48,"y":0.14},{"x":1.57,"y":0.189},{"x":1.71,"y":0.28},{"x":1.86,"y":0.39},{"x":2,"y":0.527},{"x":2.14,"y":0.61},{"x":2.29,"y":0.628},{"x":2.43,"y":0.6},{"x":2.57,"y":0.518},{"x":2.71,"y":0.427},{"x":2.86,"y":0.326},{"x":3,"y":0.225},{"x":3.08,"y":0.17},{"x":3.17,"y":0.115},{"x":3.26,"y":0.075},{"x":3.36,"y":0.042},{"x":3.46,"y":0.024},{"x":3.57,"y":0.011},{"x":3.75,"y":0.005},{"x":3.93,"y":0.002}]},
"encoding":{"x":{"field":"x","type":"quantitative","scale":{"domain":[-4,4],"range":[35,221]},"axis":{"offset":-90.3,"values":[-4,-3,-2,-1,1,2,3,4],"labelExpr":"datum.value%2==0?(datum.value<0?'-'+(-datum.value):''+datum.value):''"}},"y":{"field":"y","type":"quantitative","scale":{"domain":[-0.2,0.6],"range":[188.3,42.3]},"axis":{"offset":-128.3,"values":[0.6,0.5,0.4,0.3,0.2,0.1,-0.2],"labelExpr":"datum.value==0.6?'0.6':(datum.value==0.4?'0.4':(datum.value==0.2?'0.2':(datum.value==-0.2?'-0.2':'')))"}}},
"layer":[{"mark":{"type":"line","color":"#000","strokeWidth":2.5,"interpolate":"monotone"}},{"mark":{"type":"point","filled":true,"color":"#000","opacity":1,"size":22}}]}
]}
